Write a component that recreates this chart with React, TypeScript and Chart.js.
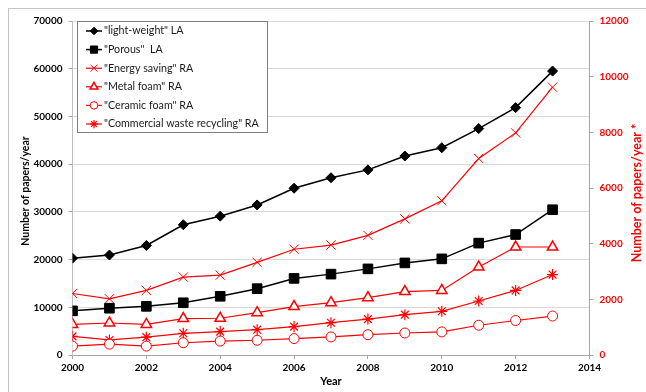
import React, { useEffect, useRef } from "react";
import { Chart, registerables } from "chart.js";

Chart.register(...registerables);

const years = [2000, 2001, 2002, 2003, 2004, 2005, 2006, 2007, 2008, 2009, 2010, 2011, 2012, 2013];
const lightWeight = [20300, 20950, 22950, 27300, 29100, 31450, 34950, 37150, 38800, 41700, 43450, 47450, 51850, 59500];
const porous = [9250, 9800, 10200, 10950, 12300, 13900, 16050, 16950, 18050, 19300, 20150, 23450, 25250, 30450];
const energySaving = [2210, 2020, 2320, 2800, 2870, 3330, 3800, 3950, 4300, 4890, 5540, 7060, 7980, 9620];
const metalFoam = [1100, 1150, 1100, 1310, 1320, 1520, 1740, 1880, 2060, 2280, 2320, 3160, 3880, 3880];
const ceramicFoam = [320, 390, 320, 440, 500, 530, 590, 650, 730, 790, 830, 1070, 1240, 1400];
const commercialWaste = [670, 540, 640, 780, 840, 910, 1020, 1160, 1290, 1450, 1570, 1940, 2320, 2890];

const seriesLabels = [
  '"light-weight" LA',
  '"Porous"  LA',
  '"Energy saving" RA',
  '"Metal foam" RA',
  '"Ceramic foam" RA',
  '"Commercial waste recycling" RA',
];
const leftTitle = "Number of papers/year";
const rightTitle = "Number of papers/year *";
const xTitle = "Year";

const FONT = "Lato, 'Liberation Sans', sans-serif";
const RED = "#ff0000";

function pts(vals: number[]) {
  return vals.map((v, i) => ({ x: years[i], y: v }));
}

function drawMarker(ctx: CanvasRenderingContext2D, style: string, x: number, y: number, r: number) {
  ctx.beginPath();
  if (style === "rectRot") {
    ctx.moveTo(x - r, y); ctx.lineTo(x, y - r); ctx.lineTo(x + r, y); ctx.lineTo(x, y + r); ctx.closePath();
    ctx.fill(); ctx.stroke();
  } else if (style === "rect") {
    const s = Math.SQRT1_2 * r;
    ctx.rect(x - s, y - s, 2 * s, 2 * s); ctx.fill(); ctx.stroke();
  } else if (style === "crossRot") {
    const s = Math.SQRT1_2 * r;
    ctx.moveTo(x - s, y - s); ctx.lineTo(x + s, y + s);
    ctx.moveTo(x - s, y + s); ctx.lineTo(x + s, y - s); ctx.stroke();
  } else if (style === "triangle") {
    ctx.moveTo(x, y - r); ctx.lineTo(x + 0.866 * r, y + 0.5 * r); ctx.lineTo(x - 0.866 * r, y + 0.5 * r); ctx.closePath();
    ctx.fill(); ctx.stroke();
  } else if (style === "circle") {
    ctx.arc(x, y, r, 0, Math.PI * 2); ctx.fill(); ctx.stroke();
  } else if (style === "star") {
    const s = Math.SQRT1_2 * r;
    ctx.moveTo(x - s, y - s); ctx.lineTo(x + s, y + s);
    ctx.moveTo(x - s, y + s); ctx.lineTo(x + s, y - s);
    ctx.moveTo(x, y - r); ctx.lineTo(x, y + r);
    ctx.moveTo(x - r, y); ctx.lineTo(x + r, y); ctx.stroke();
  }
}

function drawVerticalText(ctx: CanvasRenderingContext2D, text: string, x: number, y: number, font: string, color: string) {
  ctx.save();
  ctx.translate(x, y);
  ctx.rotate(-Math.PI / 2);
  ctx.fillStyle = color;
  ctx.font = font;
  ctx.textAlign = "center";
  ctx.textBaseline = "middle";
  ctx.fillText(text, 0, 0);
  ctx.restore();
}

const boxLegend = {
  id: "boxLegend",
  afterDraw(chart: any) {
    const ctx = chart.ctx as CanvasRenderingContext2D;
    const left = 68, top = 12, width = 190, height = 111;
    ctx.save();
    ctx.fillStyle = "#ffffff";
    ctx.fillRect(left, top, width, height);
    ctx.strokeStyle = "#7f7f7f";
    ctx.lineWidth = 1;
    ctx.strokeRect(left + 0.5, top + 0.5, width, height);
    chart.data.datasets.forEach((ds: any, i: number) => {
      const y = 22 + i * 18.6;
      ctx.strokeStyle = ds.borderColor;
      ctx.lineWidth = ds.borderWidth;
      ctx.beginPath();
      ctx.moveTo(77, y); ctx.lineTo(93, y); ctx.stroke();
      ctx.fillStyle = ds.pointBackgroundColor;
      ctx.strokeStyle = ds.pointBorderColor;
      ctx.lineWidth = ds.pointBorderWidth;
      drawMarker(ctx, ds.pointStyle, 85, y, ds.pointRadius * 0.75);
      ctx.fillStyle = "#1a1a1a";
      ctx.font = `10.7px ${FONT}`;
      ctx.textBaseline = "middle";
      ctx.textAlign = "left";
      ctx.fillText(ds.label, 95, y);
    });
    ctx.restore();
    drawVerticalText(ctx, leftTitle, 17, 182, `bold 10.5px ${FONT}`, "#000000");
    drawVerticalText(ctx, rightTitle, 627.5, 184, `bold 12.5px ${FONT}`, RED);
  },
};

export default function App() {
  const ref = useRef<HTMLCanvasElement>(null);
  useEffect(() => {
    document.body.style.margin = "8px 0 0 8px";
    if (!ref.current) return;
    const black = "#000000";
    const plain = (v: any) => String(v);
    const chart = new Chart(ref.current, {
      type: "line",
      data: {
        datasets: [
          { label: seriesLabels[0], data: pts(lightWeight), yAxisID: "y", borderColor: black, borderWidth: 1.5, pointStyle: "rectRot", pointRadius: 5, pointBackgroundColor: black, pointBorderColor: black, pointBorderWidth: 1 },
          { label: seriesLabels[1], data: pts(porous), yAxisID: "y", borderColor: black, borderWidth: 1.5, pointStyle: "rect", pointRadius: 6.8, pointBackgroundColor: black, pointBorderColor: black, pointBorderWidth: 1 },
          { label: seriesLabels[2], data: pts(energySaving), yAxisID: "y1", borderColor: RED, borderWidth: 1.2, pointStyle: "crossRot", pointRadius: 6.5, pointBackgroundColor: RED, pointBorderColor: RED, pointBorderWidth: 1 },
          { label: seriesLabels[3], data: pts(metalFoam), yAxisID: "y1", borderColor: RED, borderWidth: 1.2, pointStyle: "triangle", pointRadius: 6, pointBackgroundColor: "#ffffff", pointBorderColor: RED, pointBorderWidth: 1.5 },
          { label: seriesLabels[4], data: pts(ceramicFoam), yAxisID: "y1", borderColor: RED, borderWidth: 1.2, pointStyle: "circle", pointRadius: 5, pointBackgroundColor: "#ffffff", pointBorderColor: RED, pointBorderWidth: 1 },
          { label: seriesLabels[5], data: pts(commercialWaste), yAxisID: "y1", borderColor: RED, borderWidth: 1.2, pointStyle: "star", pointRadius: 5.5, pointBackgroundColor: RED, pointBorderColor: RED, pointBorderWidth: 1.2 },
        ],
      },
      options: {
        responsive: false,
        animation: false,
        layout: { padding: { top: 8, left: 0, right: 0, bottom: 0 } },
        plugins: { legend: { display: false }, tooltip: { enabled: false } },
        scales: {
          x: {
            type: "linear",
            min: 2000,
            max: 2014,
            ticks: { stepSize: 2, color: black, font: { family: FONT, size: 10, weight: "bold" }, padding: 3, callback: plain },
            grid: { drawOnChartArea: false, drawTicks: true, tickLength: 4, color: "#a6a6a6" },
            border: { color: "#a6a6a6" },
            title: { display: true, text: xTitle, color: black, font: { family: FONT, size: 11, weight: "bold" }, padding: 4 },
            afterFit: (s: any) => { s.height = 37; },
          },
          y: {
            type: "linear",
            position: "left",
            min: 0,
            max: 70000,
            ticks: { stepSize: 10000, color: black, font: { family: FONT, size: 10, weight: "bold" }, padding: 6, callback: plain },
            grid: { color: "#d9d9d9", tickLength: 4, tickColor: "#a6a6a6" },
            border: { color: "#bfbfbf" },
            title: { display: false },
            afterFit: (s: any) => { s.width = 63.5; },
          },
          y1: {
            type: "linear",
            position: "right",
            min: 0,
            max: 12000,
            ticks: { stepSize: 2000, color: RED, font: { family: FONT, size: 10, weight: "bold" }, padding: 6, callback: plain },
            grid: { drawOnChartArea: false, tickLength: 4, color: "#a6a6a6" },
            border: { color: "#a6a6a6" },
            title: { display: false },
            afterFit: (s: any) => { s.width = 56.5; },
          },
        },
      } as any,
      plugins: [boxLegend],
    });
    return () => chart.destroy();
  }, []);
  return (
    <div style={{ width: 638, height: 384, boxSizing: "border-box", borderLeft: "1px solid #c4c4c4", borderTop: "1px solid #c4c4c4" }}>
      <canvas ref={ref} width={637} height={383} style={{ display: "block" }} />
    </div>
  );
}
